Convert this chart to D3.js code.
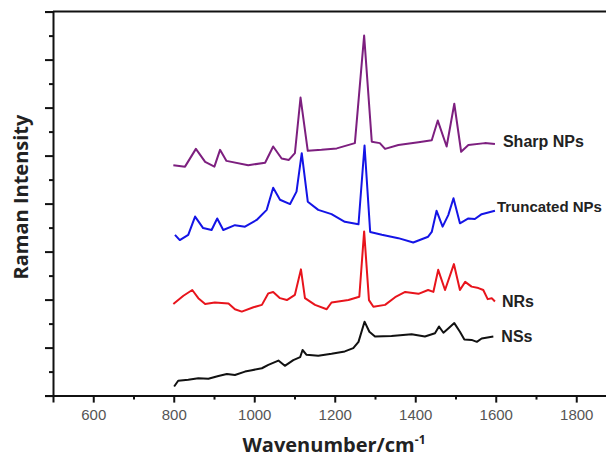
<!DOCTYPE html>
<html>
<head>
<meta charset="utf-8">
<script src="https://cdn.jsdelivr.net/npm/d3@7"></script>
<style>
  body { margin: 0; background: white; }
  svg { display: block; }
</style>
</head>
<body>
<script>
let w = 606
let h = 459

// wavenumber (cm-1) and intensity (offset units)
let sharpWn = [799, 828, 855, 878, 901, 915, 931, 985, 1027, 1047, 1068, 1086, 1101, 1115, 1133, 1167, 1205, 1250, 1273, 1292, 1312, 1325, 1358, 1408, 1441, 1456, 1478, 1497, 1514, 1532, 1573, 1598]
let sharpVal = [4.80, 4.77, 5.14, 4.87, 4.77, 5.12, 4.89, 4.80, 4.85, 5.19, 4.94, 4.91, 5.05, 6.21, 5.10, 5.12, 5.15, 5.26, 7.50, 5.29, 5.26, 5.14, 5.22, 5.28, 5.32, 5.73, 5.19, 6.08, 5.08, 5.22, 5.26, 5.24]

let truncWn = [803, 815, 836, 853, 873, 894, 908, 923, 952, 977, 1006, 1031, 1047, 1064, 1089, 1105, 1118, 1133, 1159, 1192, 1225, 1259, 1274, 1288, 1317, 1358, 1395, 1432, 1441, 1453, 1468, 1482, 1495, 1511, 1532, 1548, 1565, 1598]
let truncVal = [3.35, 3.24, 3.35, 3.73, 3.49, 3.45, 3.69, 3.45, 3.55, 3.52, 3.66, 3.87, 4.33, 4.08, 3.99, 4.25, 5.05, 4.04, 3.87, 3.78, 3.62, 3.57, 5.21, 3.41, 3.35, 3.28, 3.19, 3.31, 3.41, 3.85, 3.52, 3.76, 4.11, 3.59, 3.69, 3.68, 3.78, 3.85]

let nrWn = [799, 824, 846, 861, 878, 902, 936, 952, 969, 998, 1019, 1035, 1047, 1064, 1081, 1101, 1116, 1126, 1151, 1180, 1192, 1234, 1261, 1273, 1285, 1296, 1325, 1350, 1375, 1408, 1432, 1445, 1457, 1474, 1496, 1511, 1524, 1540, 1557, 1569, 1580, 1590, 1598]
let nrVal = [1.91, 2.08, 2.20, 2.03, 1.91, 1.94, 1.92, 1.80, 1.75, 1.84, 1.89, 2.13, 2.16, 2.03, 1.99, 2.10, 2.63, 2.03, 1.89, 1.80, 1.94, 1.99, 2.06, 3.42, 1.99, 1.85, 1.89, 2.05, 2.16, 2.12, 2.20, 2.16, 2.62, 2.20, 2.74, 2.20, 2.37, 2.27, 2.24, 2.20, 2.01, 2.03, 1.96]

let nsWn = [801, 811, 836, 861, 886, 911, 932, 952, 977, 994, 1019, 1035, 1060, 1076, 1097, 1114, 1120, 1130, 1159, 1192, 1225, 1246, 1259, 1274, 1286, 1300, 1341, 1391, 1424, 1449, 1459, 1470, 1482, 1497, 1511, 1522, 1540, 1553, 1565, 1594]
let nsVal = [0.19, 0.31, 0.33, 0.36, 0.35, 0.41, 0.45, 0.43, 0.50, 0.53, 0.57, 0.64, 0.73, 0.62, 0.74, 0.80, 0.95, 0.85, 0.83, 0.87, 0.92, 0.99, 1.12, 1.54, 1.33, 1.23, 1.24, 1.28, 1.23, 1.30, 1.44, 1.31, 1.40, 1.51, 1.33, 1.17, 1.16, 1.12, 1.19, 1.23]

let seriesNames = ["Sharp NPs", "Truncated NPs", "NRs", "NSs"]
let seriesColors = ["#7d1f7f", "#1414e6", "#e8141c", "#111111"]
let labelDx = [8, 2, 7, 8]
let labelDy = [-3, -4, 0, 0]
let labelSize = [16, 15, 16, 16]

let xMajor = [600, 800, 1000, 1200, 1400, 1600, 1800]
let xMinor = [700, 900, 1100, 1300, 1500, 1700]
let yMajor = [0, 1, 2, 3, 4, 5, 6, 7, 8]
let yMinor = [0.5, 1.5, 2.5, 3.5, 4.5, 5.5, 6.5, 7.5]

let series = [
  {wn: sharpWn, val: sharpVal},
  {wn: truncWn, val: truncVal},
  {wn: nrWn, val: nrVal},
  {wn: nsWn, val: nsVal}
]

let svg = d3.select("body").append("svg")
  .attr("width", w)
  .attr("height", h)

let x = d3.scaleLinear().domain([500, 1900]).range([53, 616.5])
let y = d3.scaleLinear().domain([0, 8]).range([395.6, 11.6])

// spectra
let line = d3.line()
  .x(d => x(d[0]))
  .y(d => y(d[1]))

series.forEach((s, i) => {
  let pts = s.wn.map((v, j) => [v, s.val[j]])
  svg.append("path")
    .attr("d", line(pts))
    .attr("fill", "none")
    .attr("stroke", seriesColors[i])
    .attr("stroke-width", 2)
    .attr("stroke-linejoin", "round")

  let last = pts[pts.length - 1]
  svg.append("text")
    .text(seriesNames[i])
    .attr("x", x(last[0]) + labelDx[i])
    .attr("y", y(last[1]) + labelDy[i])
    .attr("dy", "0.35em")
    .attr("font-family", "Liberation Sans, Arial, sans-serif")
    .attr("font-weight", "bold")
    .attr("font-size", labelSize[i])
    .attr("fill", "#222")
})

// x axis
svg.append("g").attr("transform", "translate(0," + y(0) + ")")
  .call(d3.axisBottom(x).tickValues(xMajor).tickSize(7).tickPadding(7).tickFormat(d3.format("d")))
svg.append("g").attr("transform", "translate(0," + y(0) + ")")
  .call(d3.axisBottom(x).tickValues(xMinor).tickSize(4).tickFormat(""))
  .select(".domain").remove()

// y axis, no labels
svg.append("g").attr("transform", "translate(" + x(500) + ",0)")
  .call(d3.axisLeft(y).tickValues(yMajor).tickSize(8).tickFormat(""))
svg.append("g").attr("transform", "translate(" + x(500) + ",0)")
  .call(d3.axisLeft(y).tickValues(yMinor).tickSize(4).tickFormat(""))
  .select(".domain").remove()

// top frame line
svg.append("line")
  .attr("x1", x(500)).attr("x2", w)
  .attr("y1", y(8)).attr("y2", y(8))
  .attr("stroke", "#111")
  .attr("stroke-width", 2)

svg.selectAll(".domain")
  .attr("stroke", "#111")
  .attr("stroke-width", 2)
svg.selectAll(".tick line")
  .attr("stroke", "#111")
  .attr("stroke-width", 2)
svg.selectAll(".tick text")
  .attr("font-family", "Liberation Sans, Arial, sans-serif")
  .attr("font-size", 15)
  .attr("fill", "#555")

// axis titles
svg.append("text")
  .attr("x", 334)
  .attr("y", 452)
  .attr("text-anchor", "middle")
  .attr("font-family", "Open Sans, DejaVu Sans, sans-serif")
  .attr("font-weight", "bold")
  .attr("font-size", 20)
  .attr("fill", "#222")
  .text("Wavenumber/cm")
  .append("tspan")
  .attr("dy", -8)
  .attr("font-size", 12)
  .text("-1")

svg.append("text")
  .attr("transform", "translate(28,197) rotate(-90)")
  .attr("text-anchor", "middle")
  .attr("font-family", "Open Sans, DejaVu Sans, sans-serif")
  .attr("font-weight", "bold")
  .attr("font-size", 20)
  .attr("fill", "#222")
  .text("Raman Intensity")
</script>
</body>
</html>
